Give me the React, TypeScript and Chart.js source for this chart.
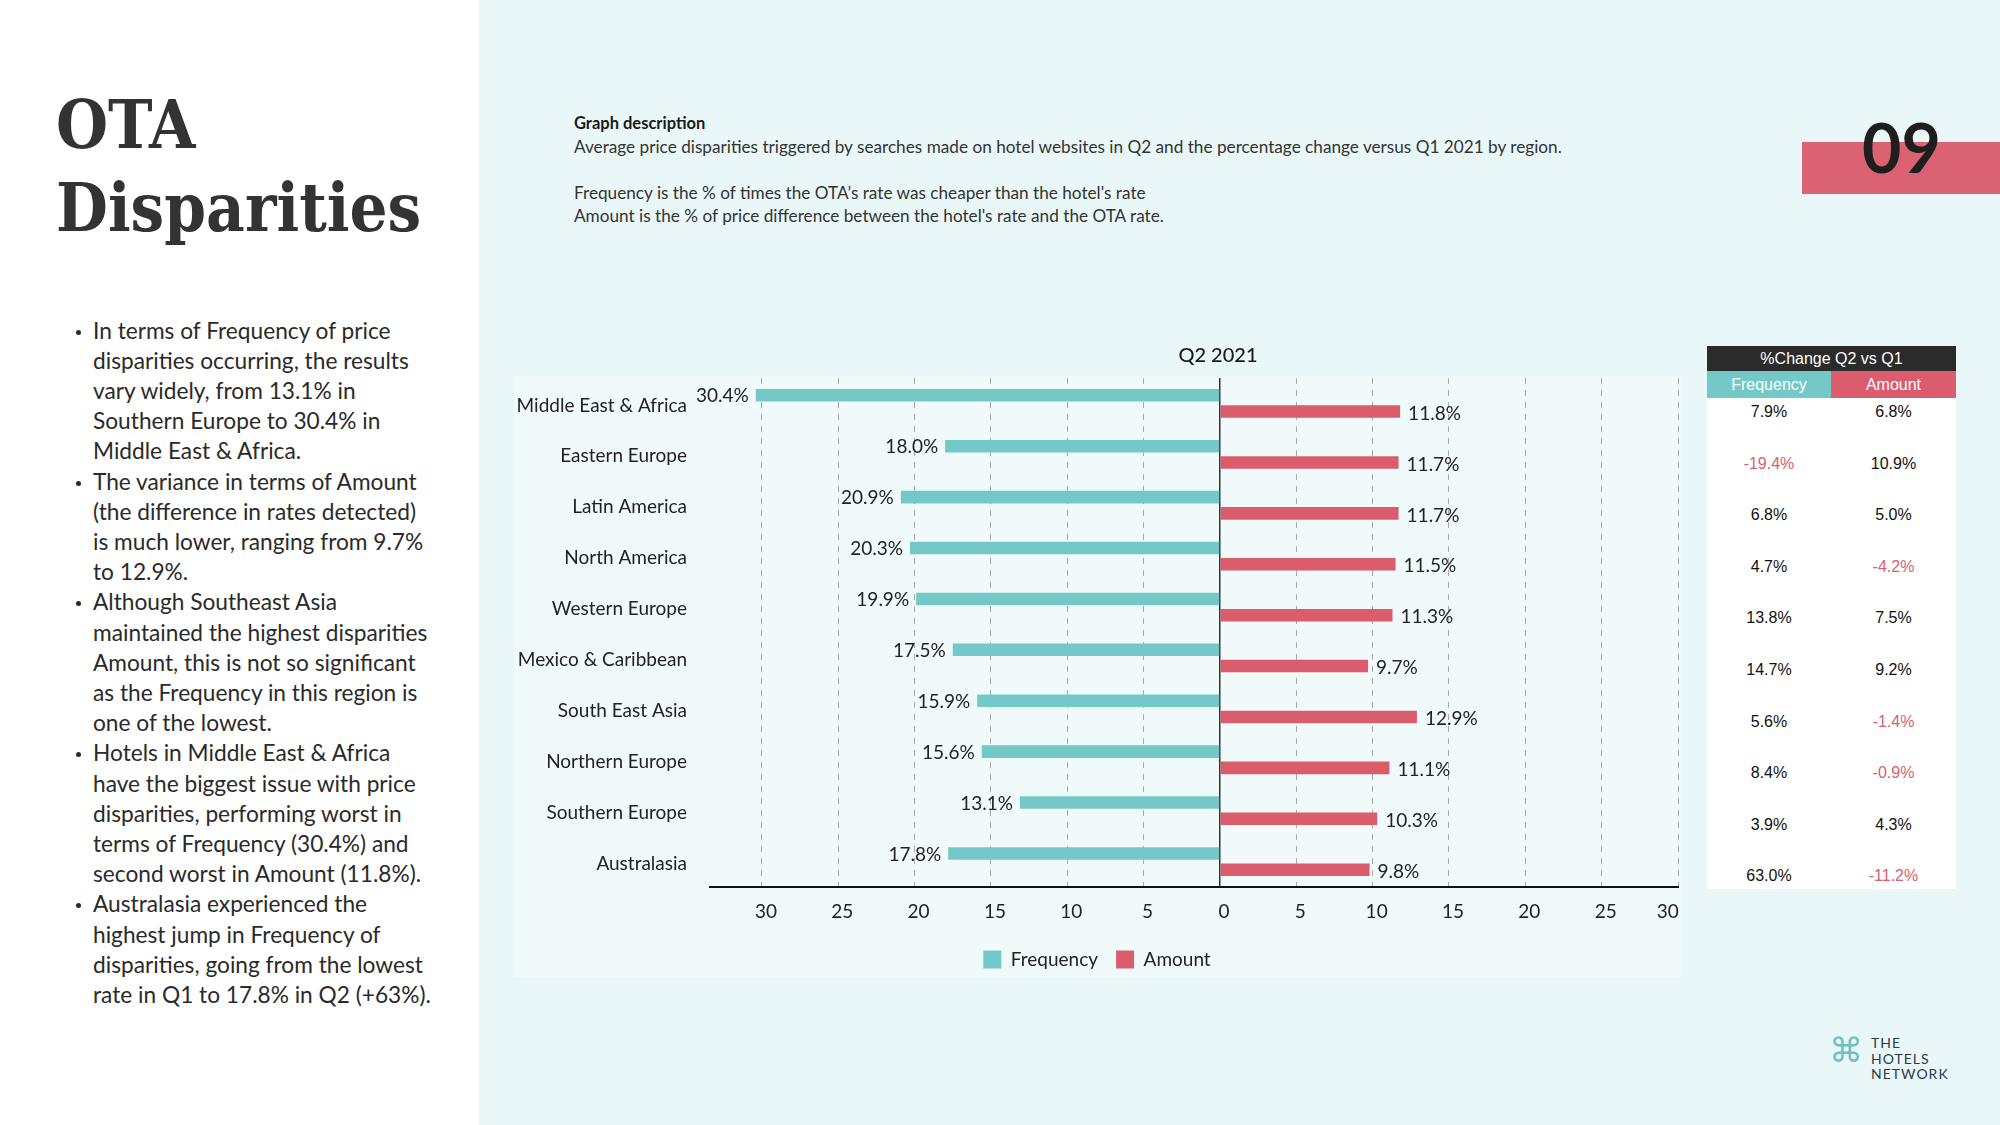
import React, { useEffect, useRef } from "react";
import { Chart, registerables } from "chart.js";

Chart.register(...registerables);

const regions = [
  "Middle East & Africa",
  "Eastern Europe",
  "Latin America",
  "North America",
  "Western Europe",
  "Mexico & Caribbean",
  "South East Asia",
  "Northern Europe",
  "Southern Europe",
  "Australasia",
];
const frequency = [30.4, 18.0, 20.9, 20.3, 19.9, 17.5, 15.9, 15.6, 13.1, 17.8];
const amount = [11.8, 11.7, 11.7, 11.5, 11.3, 9.7, 12.9, 11.1, 10.3, 9.8];
const changeFrequency = ["7.9%", "-19.4%", "6.8%", "4.7%", "13.8%", "14.7%", "5.6%", "8.4%", "3.9%", "63.0%"];
const changeAmount = ["6.8%", "10.9%", "5.0%", "-4.2%", "7.5%", "9.2%", "-1.4%", "-0.9%", "4.3%", "-11.2%"];
const xTickValues = [-30, -25, -20, -15, -10, -5, 0, 5, 10, 15, 20, 25, 30];
const chartTitle = "Q2 2021";
const seriesNames = ["Frequency", "Amount"];

const bulletLines: [boolean, string][] = [
  [true, "In terms of Frequency of price"],
  [false, "disparities occurring, the results"],
  [false, "vary widely, from 13.1% in"],
  [false, "Southern Europe to 30.4% in"],
  [false, "Middle East & Africa."],
  [true, "The variance in terms of Amount"],
  [false, "(the difference in rates detected)"],
  [false, "is much lower, ranging from 9.7%"],
  [false, "to 12.9%."],
  [true, "Although Southeast Asia"],
  [false, "maintained the highest disparities"],
  [false, "Amount, this is not so significant"],
  [false, "as the Frequency in this region is"],
  [false, "one of the lowest."],
  [true, "Hotels in Middle East & Africa"],
  [false, "have the biggest issue with price"],
  [false, "disparities, performing worst in"],
  [false, "terms of Frequency (30.4%) and"],
  [false, "second worst in Amount (11.8%)."],
  [true, "Australasia experienced the"],
  [false, "highest jump in Frequency of"],
  [false, "disparities, going from the lowest"],
  [false, "rate in Q1 to 17.8% in Q2 (+63%)."],
];

const TEAL = "#74C9C8";
const PINK = "#DA5C6D";
const TEXT = "#222222";

const CANVAS_LEFT = 494;
const CANVAS_TOP = 330;
const CANVAS_W = 1206;
const CANVAS_H = 649;

function ChartCanvas() {
  const ref = useRef<HTMLCanvasElement | null>(null);
  useEffect(() => {
    if (!ref.current) return;
    const labelPlugin = {
      id: "valueLabels",
      afterDatasetsDraw(chart: any) {
        const ctx = chart.ctx;
        ctx.save();
        ctx.font = "19px Lato";
        ctx.fillStyle = TEXT;
        ctx.textBaseline = "middle";
        chart.data.datasets.forEach((ds: any, di: number) => {
          const meta = chart.getDatasetMeta(di);
          meta.data.forEach((bar: any, i: number) => {
            const v = ds.data[i];
            const txt = Math.abs(v).toFixed(1) + "%";
            if (v < 0) {
              ctx.textAlign = "right";
              ctx.fillText(txt, bar.x - 7, bar.y + 1);
            } else {
              ctx.textAlign = "left";
              ctx.fillText(txt, bar.x + 8, bar.y + 2);
            }
          });
        });
        const xs = chart.scales.x;
        ctx.font = "500 20px Lato";
        ctx.textAlign = "center";
        ctx.fillStyle = "#1A1A1A";
        ctx.fillText(chartTitle, xs.getPixelForValue(0) - 2, 26);
        ctx.restore();
      },
    };
    const chart = new Chart(ref.current, {
      type: "bar",
      data: {
        labels: regions,
        datasets: [
          {
            label: seriesNames[0],
            data: frequency.map((v) => -v),
            backgroundColor: TEAL,
            categoryPercentage: 0.64,
            barPercentage: 0.77,
          },
          {
            label: seriesNames[1],
            data: amount,
            backgroundColor: PINK,
            categoryPercentage: 0.64,
            barPercentage: 0.77,
          },
        ],
      },
      options: {
        indexAxis: "y",
        animation: false,
        responsive: false,
        devicePixelRatio: 1,
        layout: { padding: { top: 48, right: 22, left: 22, bottom: 0 } },
        plugins: {
          title: { display: false },
          tooltip: { enabled: false },
          legend: {
            position: "bottom",
            labels: {
              boxWidth: 18,
              boxHeight: 18,
              padding: 18,
              color: TEXT,
              font: { family: "Lato", size: 19 },
            },
          },
        },
        scales: {
          x: {
            type: "linear",
            min: -33.4,
            max: 30,
            afterBuildTicks: (scale: any) => {
              scale.ticks = xTickValues.map((v) => ({ value: v }));
            },
            afterFit: (scale: any) => {
              scale.height = 45;
              scale.paddingRight = 0;
              scale.paddingLeft = 0;
            },
            ticks: {
              color: TEXT,
              font: { family: "Lato", size: 19 },
              padding: 13,
              labelOffset: 4,
              maxRotation: 0,
              callback: (v: any) => {
                const n = Number(v);
                const s = String(Math.abs(n));
                return n === 30 ? s + "\u2002\u2002\u2002" : s;
              },
            },
            grid: {
              drawTicks: false,
              color: (c: any) => (c.tick && c.tick.value === 0 ? "#333333" : "#AAAAAA"),
              lineWidth: (c: any) => (c.tick && c.tick.value === 0 ? 1.5 : 1),
            },
            border: {
              display: true,
              color: "#111111",
              width: 2,
              dash: (c: any) => (c.tick && c.tick.value !== 0 ? [6, 6] : []),
            },
          },
          y: {
            type: "category",
            afterFit: (scale: any) => {
              scale.width = 194;
            },
            ticks: {
              color: TEXT,
              font: { family: "Lato", size: 19 },
              padding: 23,
              labelOffset: 2,
            },
            grid: { display: false, drawTicks: false },
            border: { display: false },
          },
        },
      },
      plugins: [labelPlugin],
    } as any);
    return () => chart.destroy();
  }, []);
  return (
    <canvas
      ref={ref}
      width={CANVAS_W}
      height={CANVAS_H}
      style={{ position: "absolute", left: CANVAS_LEFT, top: CANVAS_TOP, width: CANVAS_W, height: CANVAS_H }}
    />
  );
}

export default function App() {
  const lineH = 30.2;
  return (
    <div
      style={{
        position: "fixed",
        left: 0,
        top: 0,
        width: 2000,
        height: 1125,
        background: "#EAF7F9",
        overflow: "hidden",
        fontFamily: "Lato, sans-serif",
      }}
    >
      <div style={{ position: "absolute", left: 0, top: 0, width: 479, height: 1125, background: "#FFFFFF" }} />
      <div
        style={{
          position: "absolute",
          left: 56,
          top: 84,
          fontFamily: "'DejaVu Serif', serif",
          fontWeight: 700,
          fontStretch: "condensed",
          fontSize: 66.5,
          lineHeight: "83px",
          color: "#333333",
          whiteSpace: "nowrap",
        }}
      >
        <div>OTA</div>
        <div>Disparities</div>
      </div>
      {bulletLines.map(([b, t], i) => (
        <div
          key={i}
          style={{
            position: "absolute",
            left: 93,
            top: 330.5 + i * lineH - 15,
            height: 30,
            lineHeight: "30px",
            fontSize: 22.7,
            color: "#2A2A2A",
            whiteSpace: "nowrap",
          }}
        >
          {b && (
            <span
              style={{
                position: "absolute",
                left: -17,
                top: 14,
                width: 5,
                height: 5,
                borderRadius: 3,
                background: "#2A2A2A",
              }}
            />
          )}
          {t}
        </div>
      ))}

      <div style={{ position: "absolute", left: 574, top: 112, fontSize: 17.2, color: "#333", whiteSpace: "nowrap", lineHeight: "22px" }}>
        <div style={{ fontWeight: 700, color: "#1A1A1A", fontSize: 16.5 }}>Graph description</div>
        <div style={{ position: "absolute", top: 24, left: 0 }}>
          Average price disparities triggered by searches made on hotel websites in Q2 and the percentage change versus Q1 2021 by region.
        </div>
        <div style={{ position: "absolute", top: 70, left: 0 }}>
          Frequency is the % of times the OTA’s rate was cheaper than the hotel's rate
        </div>
        <div style={{ position: "absolute", top: 93, left: 0 }}>
          Amount is the % of price difference between the hotel's rate and the OTA rate.
        </div>
      </div>

      <div style={{ position: "absolute", left: 1802, top: 142, width: 198, height: 52, background: "#DB6272" }} />
      <div
        style={{
          position: "absolute",
          left: 1862,
          top: 104,
          fontSize: 68,
          fontWeight: 700,
          lineHeight: "86px",
          color: "#1E1E1E",
          fontFamily: "Lato, sans-serif",
        }}
      >
        09
      </div>

      <div style={{ position: "absolute", left: 514, top: 376, width: 1167, height: 601, background: "#F1FAFB" }} />
      <ChartCanvas />

      <div style={{ position: "absolute", left: 1707, top: 346, width: 249, fontFamily: "'Liberation Sans', Arial, sans-serif", fontSize: 16 }}>
        <div style={{ height: 25, background: "#2B2B2B", color: "#FFFFFF", textAlign: "center", lineHeight: "25px" }}>%Change Q2 vs Q1</div>
        <div style={{ display: "flex", height: 27, lineHeight: "27px", color: "#FFFFFF", textAlign: "center" }}>
          <div style={{ width: 124, background: "#74C9C8" }}>{seriesNames[0]}</div>
          <div style={{ width: 125, background: "#DA5C6D" }}>{seriesNames[1]}</div>
        </div>
        <div style={{ position: "relative", height: 491, background: "#FFFFFF" }}>
          {changeFrequency.map((v, i) => (
            <div
              key={"f" + i}
              style={{
                position: "absolute",
                left: 0,
                width: 124,
                textAlign: "center",
                top: 14 + i * 51.6 - 10,
                height: 20,
                lineHeight: "20px",
                color: v.startsWith("-") ? "#D9606F" : "#111111",
              }}
            >
              {v}
            </div>
          ))}
          {changeAmount.map((v, i) => (
            <div
              key={"a" + i}
              style={{
                position: "absolute",
                left: 124,
                width: 125,
                textAlign: "center",
                top: 14 + i * 51.6 - 10,
                height: 20,
                lineHeight: "20px",
                color: v.startsWith("-") ? "#D9606F" : "#111111",
              }}
            >
              {v}
            </div>
          ))}
        </div>
      </div>

      <div style={{ position: "absolute", left: 1829, top: 1030, fontSize: 34, lineHeight: "40px", color: "#6CC3C2", fontFamily: "'DejaVu Sans', sans-serif" }}>⌘</div>
      <div
        style={{
          position: "absolute",
          left: 1871,
          top: 1035,
          fontSize: 14,
          lineHeight: "15.5px",
          letterSpacing: 1,
          color: "#2D3A4A",
          fontFamily: "Lato, sans-serif",
        }}
      >
        <div>THE</div>
        <div>HOTELS</div>
        <div>NETWORK</div>
      </div>
    </div>
  );
}
